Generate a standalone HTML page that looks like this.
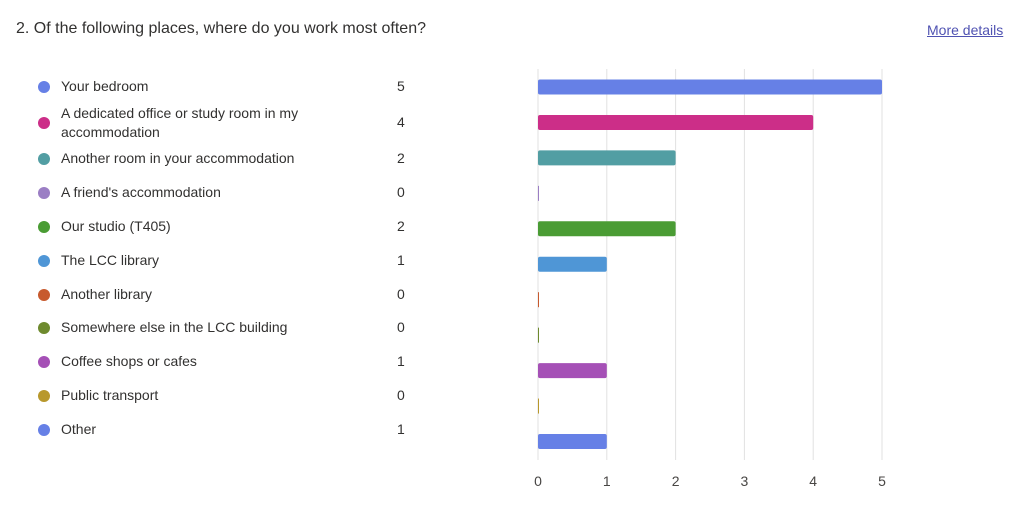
<!DOCTYPE html>
<html><head><meta charset="utf-8"><style>
body{margin:0;width:1024px;height:511px;background:#fff;font-family:"Liberation Sans",sans-serif;overflow:hidden;position:relative;color:#323130}
.t{position:absolute;left:16px;top:20px;font-size:16px;color:#323130}
.md{position:absolute;left:927px;top:22px;font-size:14px;color:#4f52b2;text-decoration:underline}
.row{position:absolute;left:38px;font-size:14px;width:380px;display:flex;align-items:center}
.dot{width:12px;height:12px;border-radius:50%;position:absolute;left:0}
.lab{position:absolute;left:23px;width:270px;line-height:19px}
.val{position:absolute;left:359px}
</style></head><body>
<div class="t">2. Of the following places, where do you work most often?</div>
<div class="md">More details</div>
<div id="legend"></div>
<svg id="chart" width="1024" height="511" style="position:absolute;left:0;top:0"></svg>
<script>
const categories=["Your bedroom","A dedicated office or study room in my accommodation","Another room in your accommodation","A friend's accommodation","Our studio (T405)","The LCC library","Another library","Somewhere else in the LCC building","Coffee shops or cafes","Public transport","Other"];
const values=[5,4,2,0,2,1,0,0,1,0,1];
const colors=["#6680e6","#cc2e88","#529ea3","#9b7ec4","#4a9c34","#4f96d6","#c75a2e","#6e8a2e","#a550b6","#b8982c","#6680e6"];
const ticks=[0,1,2,3,4,5];
const legendY=[87,123,159,193,227,261,295,328,362,396,430];
const x=v=>538+v*68.8, y=i=>87+i*35.45;
const ns="http://www.w3.org/2000/svg", svg=document.getElementById('chart'), leg=document.getElementById('legend');
ticks.forEach(t=>{
 const l=document.createElementNS(ns,'line');
 
 
 l.setAttribute('x1',x(t));l.setAttribute('x2',x(t));l.setAttribute('y1',69);l.setAttribute('y2',460);l.setAttribute('stroke','#e1e1e1');
 svg.appendChild(l);
 const tx=document.createElementNS(ns,'text');
 
 
 tx.setAttribute('x',x(t));tx.setAttribute('y',486);tx.setAttribute('text-anchor','middle');tx.setAttribute('font-size','14');tx.setAttribute('fill','#484644');tx.setAttribute('font-family','Liberation Sans, sans-serif');
 tx.textContent=t;svg.appendChild(tx);
});
categories.forEach((c,i)=>{
 const r=document.createElementNS(ns,'rect');
 
 
 const w=Math.max(x(values[i])-x(0),1);
 r.setAttribute('x',x(0));r.setAttribute('y',y(i)-7.5);r.setAttribute('width',w);r.setAttribute('height',15);r.setAttribute('rx',values[i]?2:0);r.setAttribute('fill',colors[i]);
 svg.appendChild(r);
 const row=document.createElement('div');
 
 
 row.className='row';row.style.top=(legendY[i])+'px';
 const two=c.length>40;
 row.innerHTML='<span class="dot" style="top:-6px;background:'+colors[i]+'"></span><span class="lab" style="top:'+(two?-19:-10)+'px">'+c+'</span><span class="val" style="top:-9px">'+values[i]+'</span>';
 leg.appendChild(row);
});
</script>
</body></html>
